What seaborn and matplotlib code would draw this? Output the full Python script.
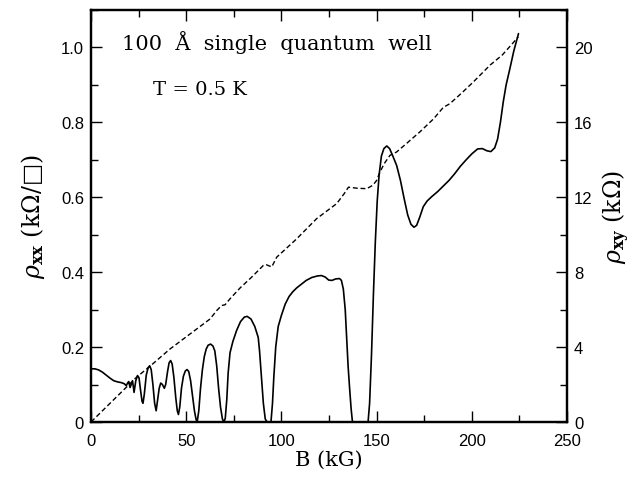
import numpy as np
import pandas as pd
import seaborn as sns
import matplotlib
matplotlib.use("Agg")
import matplotlib.pyplot as plt
from matplotlib.ticker import MultipleLocator, FuncFormatter

# rho_xx (solid), kOhm/square
b_xx = [0, 2, 4, 6, 8, 10, 12, 14, 16, 17.5, 18.5, 19.2, 19.8, 20.5, 21.2, 21.8,
        22.6, 23.5, 24.4, 25.2, 26.0, 26.8, 27.3, 28.0, 29.0, 30.0, 30.8, 31.6,
        32.5, 33.4, 34.2, 35.0, 35.8, 36.6, 37.5, 38.5, 39.2, 40.2, 41.0, 41.8,
        42.6, 43.5, 44.5, 45.3, 45.9, 46.6, 47.5, 48.5, 49.5, 50.4, 51.3, 52.3,
        53.3, 54.3, 55.2, 55.8, 56.6, 57.5, 58.5, 59.5, 60.5, 61.5, 62.8, 64.0,
        65.0, 66.0, 67.0, 68.0, 69.0, 69.8, 70.5, 71.3, 72.0, 73.0, 74.5, 76.5,
        78.5, 80.5, 82, 84, 86, 87.8, 88.5, 89.5, 90.5, 91.5, 92.5, 94.5, 95.3,
        96.0, 97.0, 98.3, 100, 102, 104, 106, 108, 110, 113, 116, 119, 121, 123,
        124.8, 126.5, 128.5, 130.5, 131.5, 132.5, 133.5, 134.3, 135.0, 135.8,
        136.6, 137.3, 145.5, 146.3, 147.3, 148.3, 149.3, 150.3, 151.3, 152.5,
        153.8, 155.3, 156.8, 158.5, 160.5, 162.5, 164.5, 166.3, 168, 169.6, 171,
        172.5, 174.5, 176.5, 179, 182, 185, 188, 191, 194, 197, 200, 203, 205.5,
        208, 210, 212, 213.5, 215, 216.5, 218, 220, 222, 224.5]
rho_xx = [0.142, 0.142, 0.139, 0.133, 0.125, 0.117, 0.110, 0.107, 0.105, 0.102,
          0.097, 0.104, 0.108, 0.092, 0.102, 0.110, 0.079, 0.110, 0.124, 0.118,
          0.085, 0.055, 0.050, 0.075, 0.125, 0.145, 0.150, 0.140, 0.100, 0.050,
          0.030, 0.060, 0.090, 0.104, 0.100, 0.090, 0.100, 0.135, 0.158, 0.164,
          0.155, 0.120, 0.065, 0.030, 0.020, 0.040, 0.090, 0.122, 0.136, 0.140,
          0.135, 0.110, 0.070, 0.030, 0.006, 0.002, 0.030, 0.090, 0.140, 0.175,
          0.195, 0.205, 0.208, 0.203, 0.190, 0.150, 0.090, 0.040, 0.008, 0.0,
          0.010, 0.060, 0.130, 0.185, 0.215, 0.245, 0.268, 0.280, 0.282, 0.275,
          0.255, 0.226, 0.190, 0.120, 0.050, 0.008, 0.0, 0.0, 0.050, 0.120,
          0.200, 0.255, 0.285, 0.315, 0.335, 0.348, 0.358, 0.366, 0.378, 0.386,
          0.390, 0.391, 0.387, 0.379, 0.378, 0.382, 0.383, 0.378, 0.355, 0.300,
          0.220, 0.150, 0.090, 0.035, 0.0, 0.0, 0.050, 0.180, 0.340, 0.480,
          0.590, 0.660, 0.710, 0.730, 0.737, 0.730, 0.710, 0.685, 0.645, 0.595,
          0.553, 0.528, 0.520, 0.525, 0.545, 0.575, 0.590, 0.602, 0.615, 0.630,
          0.645, 0.663, 0.683, 0.700, 0.716, 0.729, 0.730, 0.724, 0.722, 0.732,
          0.755, 0.800, 0.855, 0.900, 0.944, 0.990, 1.037]

# rho_xy (dashed), kOhm
b_xy = [0, 10, 20, 24, 31, 41.5, 52, 62.5, 66, 68.6, 70.4, 73, 78.3, 84, 90.5,
        92, 94.9, 97.5, 108, 118.5, 129, 133, 135.2, 140, 144.8, 148, 150,
        151.8, 154, 157, 160.5, 166, 172.8, 180, 185, 188.5, 195, 200.8, 209.6,
        216, 224.4]
rho_xy = [0, 1.0, 2.0, 2.4, 2.98, 3.9, 4.7, 5.5, 5.95, 6.22, 6.26, 6.58, 7.16,
          7.7, 8.36, 8.4, 8.28, 8.8, 9.78, 10.86, 11.66, 12.2, 12.54, 12.48,
          12.46, 12.64, 12.9, 13.36, 13.8, 14.24, 14.42, 14.9, 15.5, 16.2, 16.8,
          17.0, 17.6, 18.16, 19.06, 19.6, 20.56]

df_xx = pd.DataFrame({"B": b_xx, "rho": rho_xx})
df_xy = pd.DataFrame({"B": b_xy, "rho": rho_xy})

sns.set_theme(style="ticks", rc={
    "axes.edgecolor": "black", "text.color": "black", "axes.labelcolor": "black",
    "xtick.color": "black", "ytick.color": "black"})
plt.rcParams["font.family"] = ["Liberation Sans", "DejaVu Sans"]
plt.rcParams["mathtext.fontset"] = "dejavuserif"

fig = plt.figure(figsize=(6.37, 4.81), dpi=100)
ax = fig.add_axes([0.1429, 0.1206, 0.7473, 0.8565])
ax2 = ax.twinx()

sns.lineplot(data=df_xx, x="B", y="rho", ax=ax, color="black", lw=1.2, sort=False)
sns.lineplot(data=df_xy, x="B", y="rho", ax=ax2, color="black", lw=1.0,
             linestyle=(0, (3.5, 2)), sort=False)

ax.set_xlim(0, 250)
ax.set_ylim(0, 1.1)
ax2.set_ylim(0, 22)

ax.xaxis.set_major_locator(MultipleLocator(50))
ax.xaxis.set_minor_locator(MultipleLocator(25))
ax.yaxis.set_major_locator(MultipleLocator(0.2))
ax.yaxis.set_minor_locator(MultipleLocator(0.1))
ax2.yaxis.set_major_locator(MultipleLocator(4))
ax2.yaxis.set_minor_locator(MultipleLocator(2))

ax.yaxis.set_major_formatter(FuncFormatter(lambda v, p: "0" if abs(v) < 1e-9 else f"{v:.1f}"))

ax.tick_params(axis="x", which="both", direction="in", top=True, bottom=True,
               labelsize=12, pad=8)
ax.tick_params(axis="y", which="both", direction="in", left=True, right=False,
               labelsize=12, pad=5)
ax2.tick_params(axis="y", which="both", direction="in", right=True, left=False,
                labelsize=12, pad=5)
for a in (ax, ax2):
    a.tick_params(which="major", length=8, width=1.0)
    a.tick_params(which="minor", length=5, width=1.0)
    for s in a.spines.values():
        s.set_linewidth(1.6)
        s.set_color("black")

serif = ["DejaVu Serif", "DejaVu Sans"]
ax.set_xlabel("B (kG)", fontsize=15, family=serif, labelpad=1)
ax.set_ylabel(r"$\rho_{\mathbf{xx}}$ (k$\Omega$/□)", fontsize=17, family=serif, labelpad=10)
ax2.set_ylabel(r"$\rho_{\mathbf{xy}}$ (k$\Omega$)", fontsize=17, family=serif,
               rotation=90, labelpad=6)

ax.text(16.3, 0.997, "100  Å  single  quantum  well", fontsize=15, family=serif, va="baseline")
ax.text(32.6, 0.877, "T = 0.5 K", fontsize=14, family=serif, va="baseline")

fig.savefig("out.png", dpi=100)
